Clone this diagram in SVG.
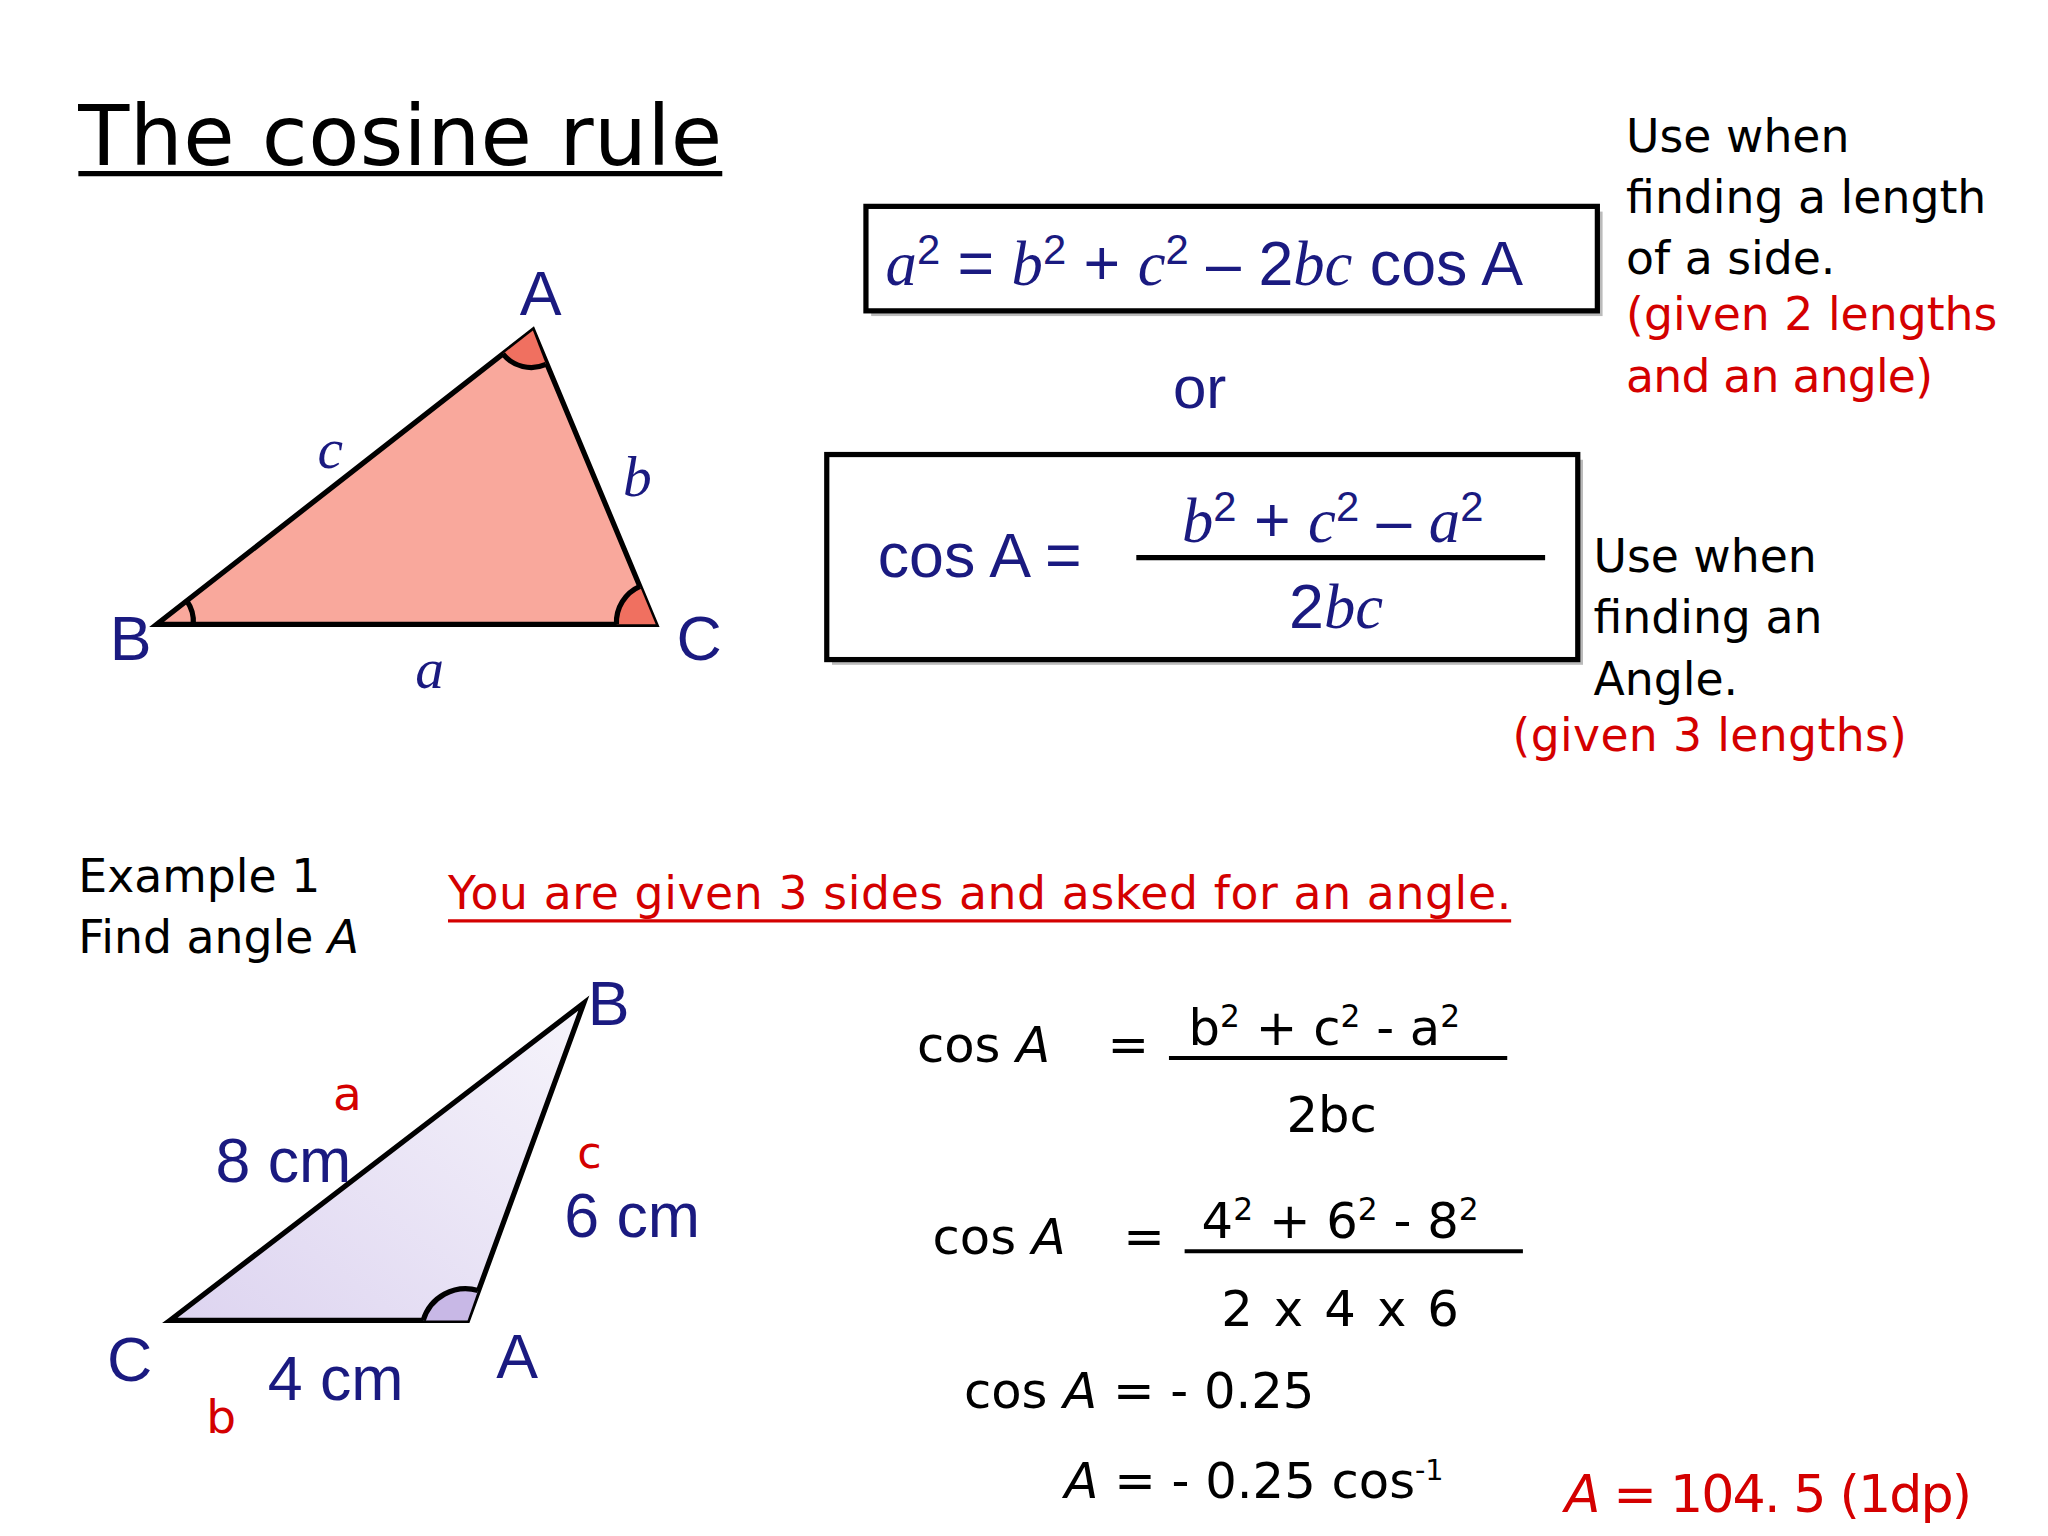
<svg xmlns="http://www.w3.org/2000/svg" width="2048" height="1536" viewBox="0 0 2048 1536">
<style>
.h{font-family:"DejaVu Sans","Liberation Sans",sans-serif;fill:#000}
.r{fill:#d40000}
.n{font-family:"Liberation Sans",Arial,sans-serif;fill:#1a1a80}
.m{font-family:"Liberation Serif","Times New Roman",serif;font-style:italic;fill:#1a1a80}
.s{stroke:#000;stroke-width:4;fill:none}
</style>
<rect width="2048" height="1536" fill="#fff"/>
<g transform="scale(1.3061)">
<g id="title"><text class="h" x="60" y="126" font-size="64" textLength="493">The cosine rule</text><line x1="60" y1="133" x2="553" y2="133" stroke="#000" stroke-width="4"/></g>
<g id="triangle1">
<polygon points="120,478 408,253 502,478" fill="#f9a89c" stroke="#000" stroke-width="4"/>
<path d="M408,253 L385,271 A28,28 0 0 0 418,279 Z" fill="#f07060"/>
<path d="M385,271 A28,28 0 0 0 418,279" class="s" stroke-width="3"/>
<path d="M502,478 L472,478 A30,30 0 0 1 490,449 Z" fill="#f07060"/>
<path d="M472,478 A30,30 0 0 1 490,449" class="s" stroke-width="3"/>
<path d="M148,478 A28,28 0 0 0 143,460" class="s" stroke-width="3"/>
<text class="n" x="398" y="241" font-size="48">A</text>
<text class="n" x="84" y="505" font-size="48">B</text>
<text class="n" x="518" y="505" font-size="48">C</text>
<text class="m" x="243" y="358" font-size="44">c</text>
<text class="m" x="477" y="380" font-size="44">b</text>
<text class="m" x="318" y="527" font-size="44">a</text>
</g>
<g id="box1">
<rect x="667" y="162" width="560" height="80" fill="#bbb"/>
<rect x="663" y="158" width="560" height="80" fill="#fff" stroke="#000" stroke-width="4"/>
<text x="678" y="218" font-size="48"><tspan class="m">a</tspan><tspan class="n" dy="-16" font-size="32">2</tspan><tspan class="n" dy="16"> = </tspan><tspan class="m">b</tspan><tspan class="n" dy="-16" font-size="32">2</tspan><tspan class="n" dy="16"> + </tspan><tspan class="m">c</tspan><tspan class="n" dy="-16" font-size="32">2</tspan><tspan class="n" dy="16"> – 2</tspan><tspan class="m">bc</tspan><tspan class="n"> cos A</tspan></text>
</g>
<text class="n" x="898" y="312" font-size="46">or</text>
<g id="box2">
<rect x="637" y="352" width="575" height="157" fill="#bbb"/>
<rect x="633" y="348" width="575" height="157" fill="#fff" stroke="#000" stroke-width="4"/>
<text class="n" x="672" y="442" font-size="48">cos A =</text>
<line x1="870" y1="427" x2="1183" y2="427" stroke="#000" stroke-width="4"/>
<text x="905" y="415" font-size="48"><tspan class="m">b</tspan><tspan class="n" dy="-16" font-size="32">2</tspan><tspan class="n" dy="16"> + </tspan><tspan class="m">c</tspan><tspan class="n" dy="-16" font-size="32">2</tspan><tspan class="n" dy="16"> – </tspan><tspan class="m">a</tspan><tspan class="n" dy="-16" font-size="32">2</tspan></text>
<text x="987" y="481" font-size="48"><tspan class="n">2</tspan><tspan class="m">bc</tspan></text>
</g>
<g id="note1" font-size="35">
<text class="h" x="1245" y="116">Use when</text>
<text class="h" x="1245" y="163">finding a length</text>
<text class="h" x="1245" y="210">of a side.</text>
<text class="h r" x="1245" y="253">(given 2 lengths</text>
<text class="h r" x="1245" y="300" textLength="235">and an angle)</text>
</g>
<g id="note2" font-size="35">
<text class="h" x="1220" y="438">Use when</text>
<text class="h" x="1220" y="485">finding an</text>
<text class="h" x="1220" y="532">Angle.</text>
<text class="h r" x="1158" y="575" textLength="302">(given 3 lengths)</text>
</g>
<g id="example" font-size="35">
<text class="h" x="60" y="683">Example 1</text>
<text class="h" x="60" y="730">Find angle <tspan font-style="italic">A</tspan></text>
<text class="h r" x="343" y="696" textLength="814">You are given 3 sides and asked for an angle.</text>
<line x1="343" y1="705" x2="1157" y2="705" stroke="#d40000" stroke-width="2.5"/>
</g>
<g id="triangle2">
<defs><linearGradient id="g" x1="0" y1="1" x2="1" y2="0"><stop offset="0" stop-color="#ddd4f0"/><stop offset="1" stop-color="#f6f4fb"/></linearGradient></defs>
<polygon points="130,1011 447,768 358,1011" fill="url(#g)" stroke="#000" stroke-width="4"/>
<path d="M358,1011 L324,1011 A34,34 0 0 1 366,988 Z" fill="#c8b8e6"/>
<path d="M324,1011 A34,34 0 0 1 366,988" class="s" stroke-width="3"/>
<text class="n" x="450" y="785" font-size="48">B</text>
<text class="n" x="82" y="1057" font-size="48">C</text>
<text class="n" x="380" y="1055" font-size="48">A</text>
<text class="h r" x="255" y="850" font-size="36">a</text>
<text class="n" x="165" y="905" font-size="48">8 cm</text>
<text class="h r" x="442" y="894" font-size="34">c</text>
<text class="n" x="432" y="947" font-size="48">6 cm</text>
<text class="n" x="205" y="1072" font-size="48">4 cm</text>
<text class="h r" x="158" y="1097" font-size="36">b</text>
</g>
<g id="working" font-size="38">
<text class="h" x="702" y="813">cos <tspan font-style="italic">A</tspan></text>
<text class="h" x="848" y="813">=</text>
<text class="h" x="910" y="800">b<tspan dy="-14" font-size="24">2</tspan><tspan dy="14"> +  c</tspan><tspan dy="-14" font-size="24">2</tspan><tspan dy="14"> - a</tspan><tspan dy="-14" font-size="24">2</tspan></text>
<line x1="895" y1="810" x2="1154" y2="810" stroke="#000" stroke-width="3"/>
<text class="h" x="985" y="867">2bc</text>
<text class="h" x="714" y="960">cos <tspan font-style="italic">A</tspan></text>
<text class="h" x="860" y="960">=</text>
<text class="h" x="920" y="948">4<tspan dy="-14" font-size="24">2</tspan><tspan dy="14"> +  6</tspan><tspan dy="-14" font-size="24">2</tspan><tspan dy="14"> - 8</tspan><tspan dy="-14" font-size="24">2</tspan></text>
<line x1="907" y1="958" x2="1166" y2="958" stroke="#000" stroke-width="3"/>
<text class="h" x="935" y="1015" textLength="182">2 x 4 x 6</text>
<text class="h" x="738" y="1078">cos <tspan font-style="italic">A</tspan>  =  - 0.25</text>
<text class="h" x="815" y="1147"><tspan font-style="italic">A</tspan>   =   - 0.25 cos<tspan dy="-14" font-size="22">-1</tspan></text>
<text class="h r" x="1198" y="1158" font-size="40" textLength="312"><tspan font-style="italic">A</tspan> = 104. 5 (1dp)</text>
</g>
</g>
</svg>
